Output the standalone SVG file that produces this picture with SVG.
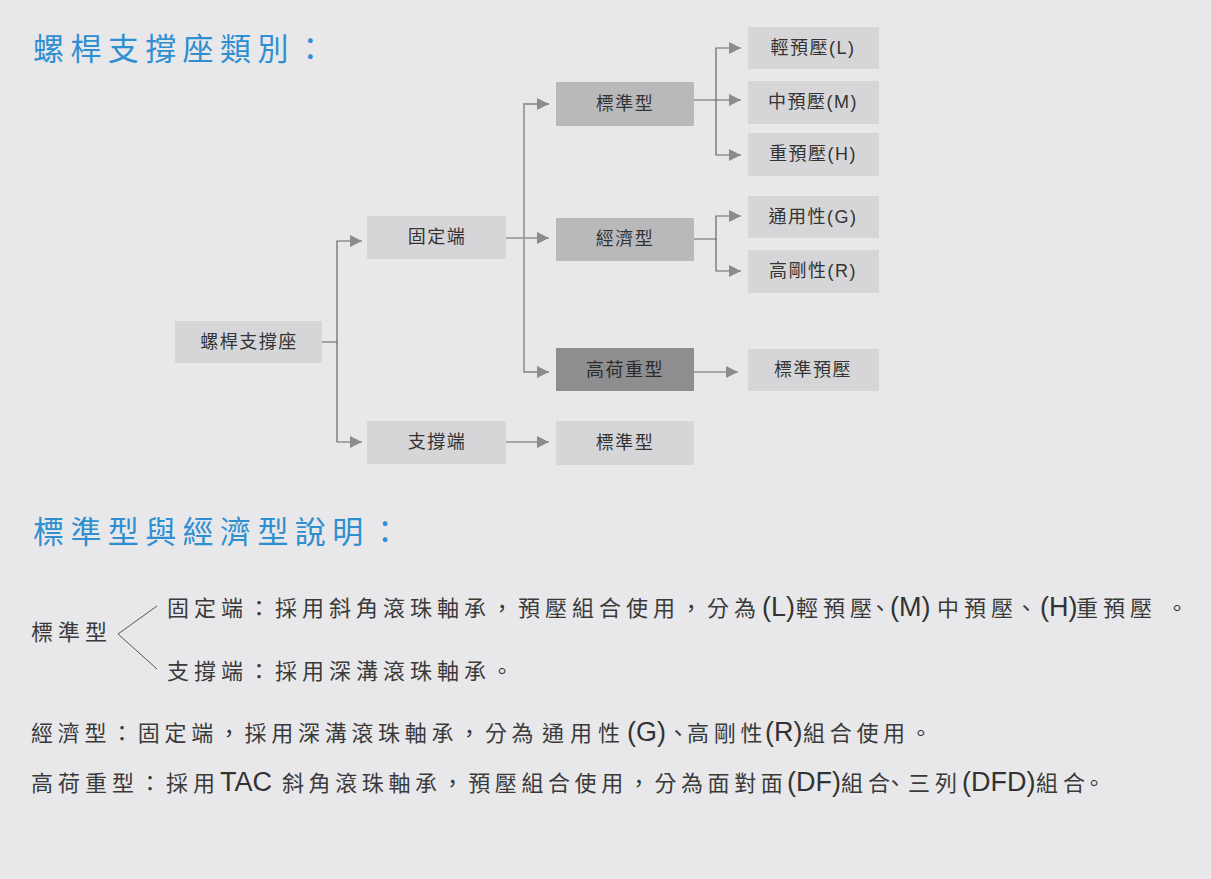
<svg xmlns="http://www.w3.org/2000/svg" width="1211" height="879" viewBox="0 0 1211 879">
<defs>
<style>
text{font-family:'Liberation Sans','Noto Sans CJK TC',sans-serif;}
.t{font-size:31px;letter-spacing:6.4px;fill:#2e8fd1;}
.n{font-size:18px;letter-spacing:1.5px;fill:#333;text-anchor:middle;}
.b{font-size:22px;letter-spacing:5px;fill:#3a3a3a;}
.l{font-size:27px;letter-spacing:0;fill:#333;}
.light{fill:#d6d6d8;}
.mid{fill:#b9b9bb;}
.dark{fill:#8e8e90;}
.c{fill:none;stroke:#666;stroke-width:1.2;}
.c2{fill:none;stroke:#9a9a9a;stroke-width:1.8;}
.br{fill:none;stroke:#555;stroke-width:1;}
</style>
<marker id="ah" viewBox="0 0 12 12" refX="12" refY="6" markerWidth="12" markerHeight="12" markerUnits="userSpaceOnUse" orient="auto">
<path d="M0,0 L12,6 L0,12 z" fill="#8c8c8c"/>
</marker>
</defs>
<rect width="1211" height="879" fill="#e8e8ea"/>

<text class="t" x="33" y="60">螺桿支撐座類別：</text>

<g id="connectors">
<path class="c2" d="M322,342 H337"/>
<path class="c" d="M337,342 V241 H362" marker-end="url(#ah)"/>
<path class="c" d="M337,342 V442 H362" marker-end="url(#ah)"/>
<path class="c" d="M506,238 H549" marker-end="url(#ah)"/>
<path class="c2" d="M524,238 V104 H549" marker-end="url(#ah)"/>
<path class="c2" d="M524,238 V372 H549" marker-end="url(#ah)"/>
<path class="c" d="M506,442 H549" marker-end="url(#ah)"/>
<path class="c" d="M694,100 H741" marker-end="url(#ah)"/>
<path class="c" d="M716,100 V48 H741" marker-end="url(#ah)"/>
<path class="c" d="M716,100 V155 H741" marker-end="url(#ah)"/>
<path class="c" d="M694,239 H716 V216 H741" marker-end="url(#ah)"/>
<path class="c" d="M716,239 V271 H741" marker-end="url(#ah)"/>
<path class="c" d="M694,372 H738" marker-end="url(#ah)"/>
</g>

<g id="root"><rect class="light" x="175" y="321" width="147" height="42"/><text class="n" x="249" y="348">螺桿支撐座</text></g>
<g id="fixed"><rect class="light" x="367" y="216" width="139" height="43"/><text class="n" x="437" y="243">固定端</text></g>
<g id="support"><rect class="light" x="367" y="421" width="139" height="43"/><text class="n" x="437" y="448">支撐端</text></g>
<g id="std"><rect class="mid" x="556" y="82" width="138" height="44"/><text class="n" x="625" y="110">標準型</text></g>
<g id="eco"><rect class="mid" x="556" y="218" width="138" height="43"/><text class="n" x="625" y="245">經濟型</text></g>
<g id="heavy"><rect class="dark" x="556" y="348" width="138" height="43"/><text class="n" x="625" y="376" style="fill:#2a2a2a">高荷重型</text></g>
<g id="std2"><rect class="light" x="556" y="421" width="138" height="44"/><text class="n" x="625" y="449">標準型</text></g>
<g id="L"><rect class="light" x="748" y="27" width="131" height="42"/><text class="n" x="813" y="54">輕預壓(L)</text></g>
<g id="M"><rect class="light" x="748" y="81" width="131" height="43"/><text class="n" x="813" y="108">中預壓(M)</text></g>
<g id="H"><rect class="light" x="748" y="133" width="131" height="43"/><text class="n" x="813" y="160">重預壓(H)</text></g>
<g id="G"><rect class="light" x="748" y="196" width="131" height="42"/><text class="n" x="813" y="223">通用性(G)</text></g>
<g id="R"><rect class="light" x="748" y="250" width="131" height="43"/><text class="n" x="813" y="277">高剛性(R)</text></g>
<g id="stdpre"><rect class="light" x="748" y="349" width="131" height="42"/><text class="n" x="813" y="376">標準預壓</text></g>

<text class="t" x="33" y="543">標準型與經濟型說明：</text>

<g id="desc">
<text class="b" x="31" y="640">標準型</text>
<path class="br" d="M157,606 L118,634 L157,669"/>
<text class="b" y="616"><tspan x="167">固定端：採用斜角滾珠軸承，預壓組合使用，分為</tspan><tspan x="762" class="l">(L)</tspan><tspan x="796">輕預壓</tspan><tspan x="869">、</tspan><tspan x="890" class="l">(M)</tspan><tspan x="937">中預壓</tspan><tspan x="1015">、</tspan><tspan x="1040" class="l">(H)</tspan><tspan x="1076">重預壓</tspan><tspan x="1166">。</tspan></text>
<text class="b" x="167" y="679">支撐端：採用深溝滾珠軸承。</text>
<text class="b" y="741" style="letter-spacing:4.7px"><tspan x="31">經濟型：固定端，採用深溝滾珠軸承，分為</tspan><tspan x="542" style="letter-spacing:6px">通用性</tspan><tspan x="627" class="l">(G)</tspan><tspan x="667">、</tspan><tspan x="687">高剛性</tspan><tspan x="765" class="l">(R)</tspan><tspan x="803">組合使用。</tspan></text>
<text class="b" y="791"><tspan x="31">高荷重型：採用</tspan><tspan x="220" class="l">TAC</tspan><tspan x="282" style="letter-spacing:4.6px">斜角滾珠軸承，預壓組合使用，分為面對面</tspan><tspan x="787" class="l">(DF)</tspan><tspan x="841">組合</tspan><tspan x="884">、</tspan><tspan x="908">三列</tspan><tspan x="962" class="l">(DFD)</tspan><tspan x="1036">組合</tspan><tspan x="1083">。</tspan></text>
</g>
</svg>
